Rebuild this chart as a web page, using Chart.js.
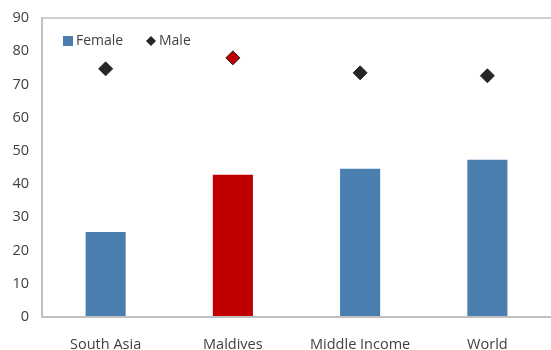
<!DOCTYPE html>
<html>
<head>
<meta charset="utf-8">
<script src="https://cdn.jsdelivr.net/npm/chart.js@4/dist/chart.umd.min.js"></script>
<style>
  html, body { margin: 0; padding: 0; background: #fff; }
  #wrap { width: 551px; height: 350px; position: relative; }
</style>
</head>
<body>
<div id="wrap"><canvas id="chart"></canvas></div>
<script>
  // Data
  var categories = ['South Asia', 'Maldives', 'Middle Income', 'World'];
  var femaleValues = [25.6, 42.8, 44.6, 47.3];
  var maleValues = [74.7, 78.0, 73.5, 72.6];
  var yTicks = [0, 10, 20, 30, 40, 50, 60, 70, 80, 90];

  var BLUE = '#4A7EAF';
  var RED = '#C00000';
  var DARK = '#262626';
  var TEXT = '#404040';
  var FONT = "'Open Sans', sans-serif";

  // markers should not push the plot area inwards (the reference plot runs to the edge)
  Chart.LineController.prototype.getMaxOverflow = function () { return 0; };

  // Female bar / male marker colours, Maldives highlighted
  var barColors = categories.map(function (c) { return c === 'Maldives' ? RED : BLUE; });
  var markerColors = categories.map(function (c) { return c === 'Maldives' ? RED : DARK; });

  // Legend drawn inside the plot area, top-left
  var insideLegend = {
    id: 'insideLegend',
    afterDraw: function (chart) {
      var ctx = chart.ctx;
      var area = chart.chartArea;
      var y = area.top + 23;
      var x = area.left + 21;
      ctx.save();
      ctx.font = '14px ' + FONT;
      ctx.textBaseline = 'middle';
      ctx.textAlign = 'left';

      // Female swatch
      ctx.fillStyle = BLUE;
      ctx.fillRect(x, y - 5, 10, 10);
      ctx.fillStyle = TEXT;
      ctx.fillText(chart.data.datasets[0].label, x + 13, y);

      // Male diamond
      var mx = x + 88;
      ctx.fillStyle = DARK;
      ctx.beginPath();
      ctx.moveTo(mx, y - 5);
      ctx.lineTo(mx + 5, y);
      ctx.lineTo(mx, y + 5);
      ctx.lineTo(mx - 5, y);
      ctx.closePath();
      ctx.fill();
      ctx.fillStyle = TEXT;
      ctx.fillText(chart.data.datasets[1].label, mx + 8, y);
      ctx.restore();
    }
  };

  new Chart(document.getElementById('chart'), {
    type: 'bar',
    data: {
      labels: categories,
      datasets: [
        {
          label: 'Female',
          data: femaleValues,
          backgroundColor: barColors,
          borderWidth: 0,
          barPercentage: 0.315,
          categoryPercentage: 1,
          order: 2
        },
        {
          type: 'line',
          label: 'Male',
          data: maleValues,
          showLine: false,
          pointStyle: 'rectRot',
          pointRadius: 7,
          pointBackgroundColor: markerColors,
          pointBorderColor: DARK,
          pointBorderWidth: 1,
          order: 1
        }
      ]
    },
    options: {
      responsive: true,
      maintainAspectRatio: false,
      animation: false,
      layout: { padding: { top: 18, right: 0, left: 0, bottom: 0 } },
      plugins: {
        legend: { display: false },
        tooltip: { enabled: false }
      },
      scales: {
        x: {
          grid: { display: false },
          border: { display: true, color: '#BFBFBF', width: 2 },
          ticks: {
            color: TEXT,
            font: { family: FONT, size: 14.5 },
            padding: 11,
            maxRotation: 0
          },
          afterFit: function (scale) {
            scale.height = 33;
            scale.paddingLeft = 0;
            scale.paddingRight = 0;
          }
        },
        y: {
          min: 0,
          max: 90,
          afterBuildTicks: function (scale) {
            scale.ticks = yTicks.map(function (v) { return { value: v }; });
          },
          grid: {
            drawTicks: false,
            lineWidth: 2,
            color: function (c) {
              return c.tick && c.tick.value === 90 ? '#CFCFCF' : 'transparent';
            }
          },
          border: { display: true, color: '#BFBFBF', width: 2 },
          ticks: {
            color: TEXT,
            font: { family: FONT, size: 14.5 },
            padding: 13
          },
          afterFit: function (scale) {
            scale.width = 42;
            scale.paddingTop = 0;
            scale.paddingBottom = 0;
          }
        }
      }
    },
    plugins: [insideLegend]
  });
</script>
</body>
</html>
